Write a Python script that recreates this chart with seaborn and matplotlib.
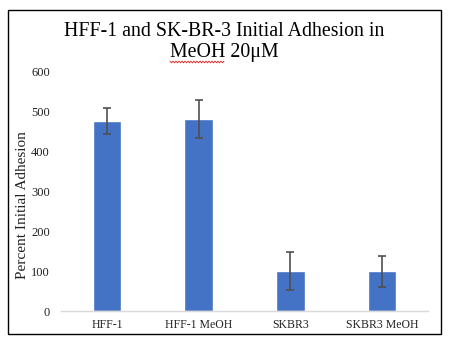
import matplotlib
matplotlib.use("Agg")
import matplotlib.pyplot as plt
import seaborn as sns
import pandas as pd
import numpy as np
from matplotlib.patches import Rectangle
from matplotlib.lines import Line2D

categories = ["HFF-1", "HFF-1 MeOH", "SKBR3", "SKBR3 MeOH"]
values = [477, 482, 100, 100]
errors = [33, 47, 48, 39]
yticks = [0, 100, 200, 300, 400, 500, 600]

sns.set_theme(style="white")
plt.rcParams['font.family'] = ['Liberation Serif', 'DejaVu Serif']

df = pd.DataFrame({"cat": categories, "val": values})

fig = plt.figure(figsize=(4.49, 3.46), dpi=100)
ax = fig.add_axes([61/449, 1-311/346, (428-61)/449, (311-72)/346])
sns.barplot(data=df, x="cat", y="val", color="#4472C4", saturation=1, width=0.31, ax=ax, errorbar=None)
ax.errorbar(np.arange(len(categories)), values, yerr=errors, fmt="none", ecolor="#505050", elinewidth=1.2, capsize=3, capthick=1.2)
ax.set_ylim(0, 600)
ax.set_xlim(-0.5, 3.5)
ax.set_yticks(yticks)
ax.set_yticklabels([str(t) for t in yticks])
ax.set_xlabel("")
ax.set_ylabel("")
for s in ["top", "right", "left"]:
    ax.spines[s].set_visible(False)
ax.spines["bottom"].set_color("#d9d9d9")
ax.spines["bottom"].set_linewidth(1)
ax.tick_params(axis="y", length=0, labelsize=9, colors="#222222", pad=8)
ax.tick_params(axis="x", length=0, labelsize=8.5, colors="#222222", pad=6)

fig.text(23/449, 1-205/346, "Percent Initial Adhesion", rotation=90, ha="center", va="center", fontsize=11, color="#222222")
fig.text(224/449, 1-31/346, "HFF-1 and SK-BR-3 Initial Adhesion in", ha="center", va="center", fontsize=14.3, color="black")
fig.text(224/449, 1-53/346, "MeOH 20μM", ha="center", va="center", fontsize=14.3, color="black")

# spell-check squiggle under "MeOH"
sx = np.linspace(170, 224, 37)
sy = 62 + np.where(np.arange(len(sx)) % 2 == 0, -0.8, 0.8)
fig.lines.append(Line2D(sx/449, 1-sy/346, transform=fig.transFigure, color="#e03030", linewidth=0.7))

# border
fig.patches.append(Rectangle((8/449, 1-334/346), (441-8)/449, (334-10)/346, transform=fig.transFigure, fill=False, edgecolor="black", linewidth=1))

fig.savefig("out.png", dpi=100)
